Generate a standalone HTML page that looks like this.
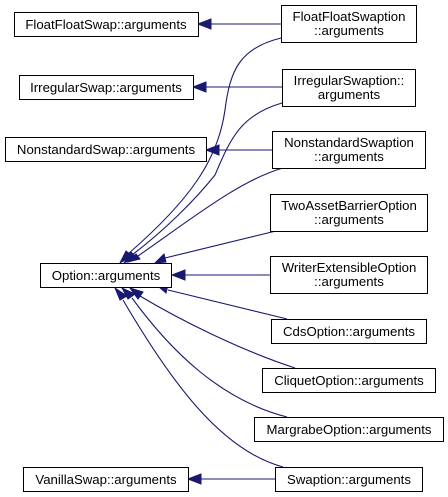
<!DOCTYPE html>
<html><head><style>
html,body{margin:0;padding:0;background:#fff;}
svg{display:block}
text{font-family:"Liberation Sans",Helvetica,sans-serif;font-size:13.2px;fill:#000;text-anchor:middle}
rect{fill:#fff;stroke:#000;stroke-width:1}
.e{fill:none;stroke:#191970;stroke-width:1.1}
.a{fill:#191970;stroke:#191970}
</style></head><body>
<svg width="448" height="497" viewBox="0 0 448 497">
<path class="e" d="M281,24 L210,24"/><polygon class="a" points="198,24 211,19 211,29"/>
<path class="e" d="M282,87 L205,87"/><polygon class="a" points="193,87 206,82 206,92"/>
<path class="e" d="M272,150 L218,150"/><polygon class="a" points="206,150 219,145 219,155"/>
<path class="e" d="M270,275 L184,275"/><polygon class="a" points="172,275 185,270 185,280"/>
<path class="e" d="M275,479 L200,479"/><polygon class="a" points="188,479 201,474 201,484"/>

<path class="e" d="M281,38 C240,48 230,70 225,110 C218,160 190,200 128,254"/>
<path class="e" d="M282,103 C240,115 230,140 215,175 C195,200 165,230 132,255"/>
<path class="e" d="M283,168 C240,180 190,220 138,256"/>
<path class="e" d="M276,231 L165,258"/>
<path class="e" d="M287,319 L168,290"/>
<path class="e" d="M295,368 C240,350 180,320 140,296"/>
<path class="e" d="M287,417 C220,400 170,350 132,298"/>
<path class="e" d="M283,467 C220,450 170,380 123,300"/>

<polygon class="a" points="120,263 126,251 132,256"/>
<polygon class="a" points="124,263 131,252 136,257"/>
<polygon class="a" points="128,262 136,254 140,259"/>
<polygon class="a" points="155,263 164,254 166,262"/>
<polygon class="a" points="159,287 168,285 166,293"/>
<polygon class="a" points="130,288 143,292 138,299"/>
<polygon class="a" points="122,288 135,294 128,299"/>
<polygon class="a" points="115,288 127,296 120,300"/>

<rect x="14.5" y="12.5" width="184" height="24"/><text x="106" y="29">FloatFloatSwap::arguments</text>
<rect x="281.5" y="5.5" width="135" height="37"/><text x="349" y="21">FloatFloatSwaption</text><text x="349" y="35">::arguments</text>
<rect x="19.5" y="75.5" width="174" height="24"/><text x="106" y="92">IrregularSwap::arguments</text>
<rect x="282.5" y="69.5" width="133" height="37"/><text x="349" y="85">IrregularSwaption::</text><text x="349" y="99">arguments</text>
<rect x="5.5" y="137.5" width="201" height="24"/><text x="106" y="154">NonstandardSwap::arguments</text>
<rect x="272.5" y="131.5" width="153" height="37"/><text x="349" y="147">NonstandardSwaption</text><text x="349" y="161">::arguments</text>
<rect x="270.5" y="194.5" width="157" height="37"/><text x="349" y="210">TwoAssetBarrierOption</text><text x="349" y="224">::arguments</text>
<rect x="40.5" y="263.5" width="131" height="24"/><text x="106" y="280">Option::arguments</text>
<rect x="270.5" y="256.5" width="157" height="37"/><text x="349" y="272">WriterExtensibleOption</text><text x="349" y="286">::arguments</text>
<rect x="271.5" y="319.5" width="155" height="24"/><text x="349" y="336">CdsOption::arguments</text>
<rect x="262.5" y="368.5" width="173" height="24"/><text x="349" y="385">CliquetOption::arguments</text>
<rect x="254.5" y="417.5" width="189" height="24"/><text x="349" y="434">MargrabeOption::arguments</text>
<rect x="23.5" y="467.5" width="165" height="24"/><text x="106" y="484">VanillaSwap::arguments</text>
<rect x="275.5" y="467.5" width="147" height="24"/><text x="349" y="484">Swaption::arguments</text>
</svg>
</body></html>
